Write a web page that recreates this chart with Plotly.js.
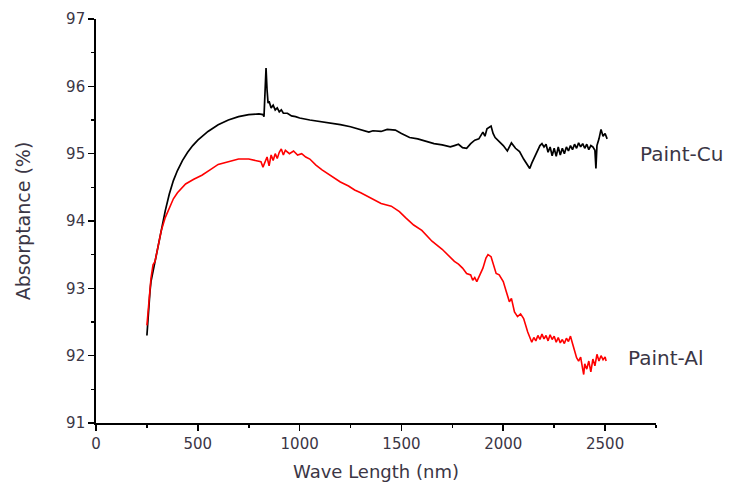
<!DOCTYPE html>
<html>
<head>
<meta charset="utf-8">
<script src="https://cdn.plot.ly/plotly-3.0.1.min.js"></script>
<style>html,body{margin:0;padding:0;background:#fff;}#chart{width:729px;height:488px;}</style>
</head>
<body>
<div id="chart"></div>
<script>
// Paint-Cu (black)
var cuWave = [250,255,260,265,270,280,290,300,320,340,360,380,400,425,450,475,500,550,600,650,700,750,800,820,825,830,835,840,845,850,860,870,880,890,900,910,920,940,960,980,1000,1050,1100,1150,1200,1250,1300,1340,1360,1400,1430,1470,1500,1540,1580,1620,1660,1700,1740,1760,1780,1800,1820,1840,1860,1880,1900,1910,1920,1940,1950,1960,1980,2000,2020,2040,2060,2080,2100,2120,2130,2140,2150,2160,2170,2180,2190,2200,2210,2220,2230,2240,2250,2260,2270,2280,2290,2300,2310,2320,2330,2340,2350,2360,2370,2380,2390,2400,2410,2420,2430,2440,2450,2455,2460,2470,2480,2490,2500,2510];
var cuAbs = [92.30,92.55,92.75,92.95,93.10,93.25,93.40,93.55,93.90,94.15,94.40,94.60,94.75,94.90,95.02,95.12,95.20,95.33,95.43,95.50,95.55,95.58,95.59,95.58,95.55,96.10,96.27,95.95,95.75,95.78,95.68,95.72,95.65,95.68,95.62,95.65,95.60,95.60,95.56,95.55,95.53,95.50,95.48,95.46,95.43,95.40,95.36,95.32,95.34,95.33,95.36,95.35,95.30,95.24,95.22,95.18,95.15,95.13,95.10,95.12,95.14,95.09,95.08,95.15,95.20,95.22,95.32,95.26,95.37,95.41,95.30,95.24,95.18,95.12,95.04,95.16,95.08,95.03,94.92,94.82,94.78,94.86,94.92,94.98,95.06,95.12,95.15,95.10,95.14,95.02,95.10,94.97,95.08,94.96,95.10,94.98,95.08,95.00,95.10,95.04,95.12,95.06,95.14,95.08,95.16,95.10,95.15,95.08,95.14,95.06,95.12,95.10,95.05,94.78,95.12,95.22,95.36,95.26,95.30,95.22];

// Paint-Al (red)
var alWave = [250,260,270,280,290,300,320,340,360,380,400,440,480,520,560,600,650,700,750,790,810,820,830,840,850,860,870,880,890,900,910,920,930,950,970,990,1010,1030,1050,1080,1110,1150,1200,1240,1270,1300,1350,1400,1450,1490,1520,1560,1600,1650,1700,1740,1760,1780,1800,1820,1840,1850,1860,1870,1885,1900,1915,1925,1940,1950,1965,1980,2000,2015,2030,2040,2055,2070,2085,2100,2120,2140,2150,2160,2170,2180,2190,2200,2210,2220,2230,2240,2250,2260,2270,2280,2290,2300,2310,2320,2330,2340,2350,2360,2370,2380,2390,2395,2400,2410,2420,2430,2440,2450,2460,2470,2480,2490,2500,2505];
var alAbs = [92.45,92.80,93.15,93.35,93.40,93.55,93.85,94.05,94.20,94.33,94.42,94.55,94.62,94.68,94.76,94.84,94.88,94.92,94.92,94.90,94.88,94.80,94.88,94.95,94.82,94.98,94.90,95.00,94.93,95.02,95.07,94.98,95.05,95.00,95.04,94.98,95.00,94.95,94.92,94.83,94.76,94.68,94.58,94.52,94.46,94.42,94.34,94.26,94.22,94.14,94.05,93.94,93.86,93.70,93.58,93.45,93.40,93.36,93.30,93.22,93.20,93.12,93.16,93.10,93.20,93.30,93.45,93.50,93.47,93.38,93.22,93.20,93.10,92.95,92.80,92.85,92.65,92.58,92.62,92.55,92.35,92.20,92.27,92.22,92.30,92.24,92.32,92.25,92.30,92.22,92.31,92.24,92.29,92.20,92.27,92.19,92.24,92.18,92.26,92.21,92.29,92.18,92.08,91.97,91.92,91.98,91.80,91.72,91.88,91.80,91.92,91.76,91.95,91.85,92.02,91.92,92.00,91.94,91.98,91.92];

var seriesNames = ["Paint-Cu", "Paint-Al"];
var labelPos = [[2660, 95.0], [2605, 91.97]];

var textColor = "#3b3645";
var fontFam = "DejaVu Sans, Liberation Sans, Arial, sans-serif";

var traces = [
  {x: cuWave, y: cuAbs, type: "scatter", mode: "lines", name: seriesNames[0],
   line: {color: "#000000", width: 1.7}},
  {x: alWave, y: alAbs, type: "scatter", mode: "lines", name: seriesNames[1],
   line: {color: "#ff0000", width: 1.6}}
];

var axisCommon = {
  showline: true, linecolor: "#000", linewidth: 1.8,
  ticks: "outside", ticklen: 6, tickwidth: 1.6, tickcolor: "#000",
  showgrid: false, zeroline: false,
  tickfont: {family: fontFam, size: 15, color: textColor}
};

var layout = {
  width: 729, height: 488,
  margin: {l: 96, r: 73, t: 19, b: 65},
  paper_bgcolor: "#fff", plot_bgcolor: "#fff",
  showlegend: false,
  font: {family: fontFam, color: textColor},
  xaxis: Object.assign({}, axisCommon, {
    range: [0, 2750], dtick: 500, tick0: 0,
    minor: {dtick: 250, ticklen: 3.5, tickwidth: 1.6, tickcolor: "#000", ticks: "outside"},
    title: {text: "Wave Length (nm)", font: {family: fontFam, size: 18, color: textColor}, standoff: 14}
  }),
  yaxis: Object.assign({}, axisCommon, {
    range: [91, 97], dtick: 1, tick0: 91,
    minor: {dtick: 0.5, ticklen: 3.5, tickwidth: 1.6, tickcolor: "#000", ticks: "outside"},
    title: {text: "Absorptance (%)", font: {family: fontFam, size: 19, color: textColor}, standoff: 30}
  }),
  annotations: seriesNames.map(function (n, i) {
    return {x: labelPos[i][0], y: labelPos[i][1], xref: "x", yref: "y", text: n,
      showarrow: false, xanchor: "left", yanchor: "middle",
      font: {family: fontFam, size: 20, color: textColor}};
  })
};

Plotly.newPlot("chart", traces, layout, {displayModeBar: false, staticPlot: true});
</script>
</body>
</html>
